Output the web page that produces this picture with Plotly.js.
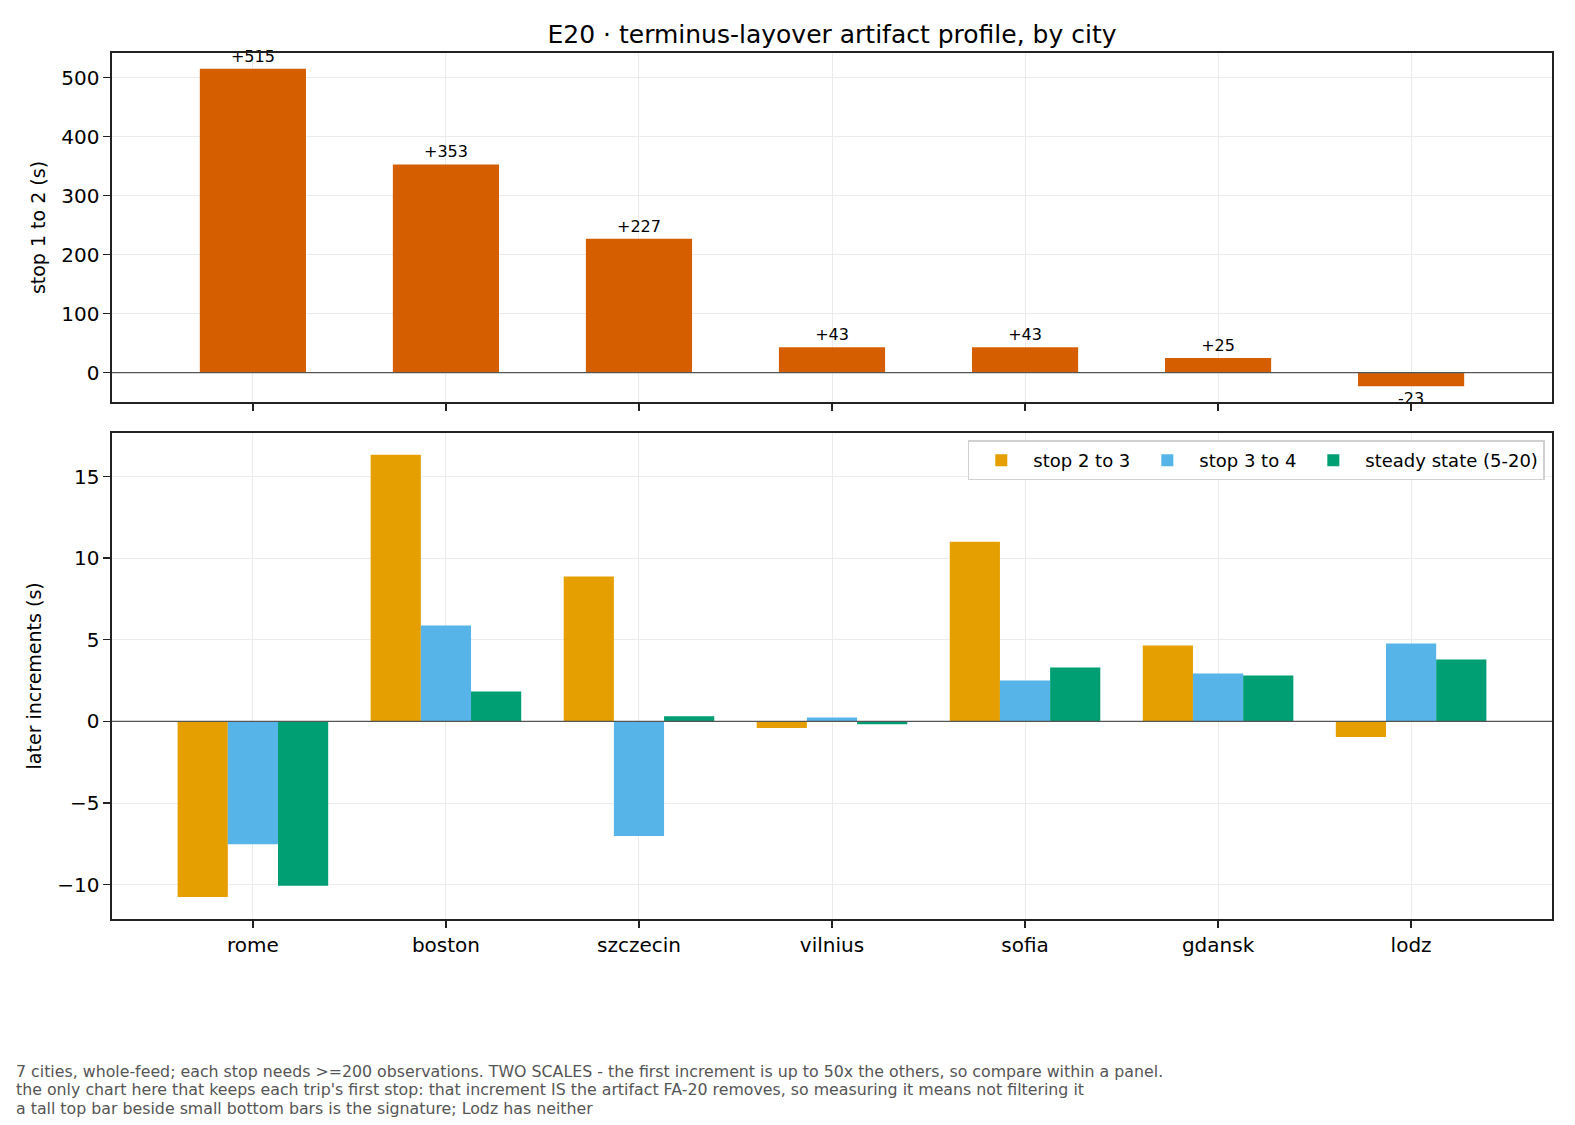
<!DOCTYPE html>
<html>
<head>
<meta charset="utf-8">
<script src="https://cdn.plot.ly/plotly-3.0.1.min.js"></script>
<style>
  body { margin: 0; background: #fff; }
  #chart { width: 1575px; height: 1125px; }
</style>
</head>
<body>
<div id="chart"></div>
<script>
// cities, in the order they are drawn
var cities = ['rome', 'boston', 'szczecin', 'vilnius', 'sofia', 'gdansk', 'lodz'];

// top panel: first increment (stop 1 -> 2), seconds
var firstInc = [515, 353, 227, 43, 43, 25, -23];

// bottom panel: later increments, seconds
var stop2to3 = [-10.75, 16.33, 8.87, -0.41, 11.0, 4.65, -0.96];
var stop3to4 = [-7.52, 5.87, -7.01, 0.24, 2.51, 2.94, 4.77];
var steady = [-10.07, 1.83, 0.31, -0.17, 3.30, 2.81, 3.79];

var footLines = [
  "7 cities, whole-feed; each stop needs >=200 observations. TWO SCALES - the first increment is up to 50x the others, so compare within a panel.",
  "the only chart here that keeps each trip's first stop: that increment IS the artifact FA-20 removes, so measuring it means not filtering it",
  "a tall top bar beside small bottom bars is the signature; Lodz has neither"
];

var firstText = firstInc.map(function (v) { return v > 0 ? '+' + v : String(v); });

var traces = [
  {
    type: 'bar', x: cities, y: firstInc, xaxis: 'x', yaxis: 'y',
    width: 0.55, marker: {color: '#D55E00'},
    text: firstText, textposition: 'outside', cliponaxis: false,
    textfont: {size: 16, color: '#000'},
    showlegend: false, hoverinfo: 'x+y'
  },
  {
    type: 'bar', name: 'stop 2 to 3', x: cities, y: stop2to3,
    xaxis: 'x2', yaxis: 'y2', marker: {color: '#E69F00'}
  },
  {
    type: 'bar', name: 'stop 3 to 4', x: cities, y: stop3to4,
    xaxis: 'x2', yaxis: 'y2', marker: {color: '#56B4E9'}
  },
  {
    type: 'bar', name: 'steady state (5-20)', x: cities, y: steady,
    xaxis: 'x2', yaxis: 'y2', marker: {color: '#009E73'}
  }
];

var axisCommon = {
  showline: true, mirror: true, linecolor: '#222', linewidth: 1.6,
  ticks: 'outside', ticklen: 7, tickwidth: 1.4, tickcolor: '#222',
  showgrid: true, gridcolor: '#ebebeb', gridwidth: 1,
  zeroline: false, tickfont: {size: 20, color: '#000'}
};

function ax(extra) {
  return Object.assign({}, axisCommon, extra);
}

var annotations = footLines.map(function (t, i) {
  return {
    xref: 'paper', yref: 'paper', x: -0.0679, y: -0.176 - i * 0.0214,
    xanchor: 'left', yanchor: 'middle', showarrow: false, align: 'left',
    text: t, font: {size: 15.8, color: '#555'}
  };
});

var layout = {
  width: 1575, height: 1125,
  margin: {l: 112, r: 23, t: 53, b: 205.5},
  paper_bgcolor: '#fff', plot_bgcolor: '#fff',
  font: {family: 'DejaVu Sans', color: '#000'},
  title: {
    text: 'E20 · terminus-layover artifact profile, by city',
    font: {size: 25, color: '#000'},
    x: 0.5, xref: 'paper', y: 1 - 34 / 1125, yref: 'container', yanchor: 'middle'
  },
  barmode: 'group', bargap: 0.22, bargroupgap: 0,
  xaxis: ax({anchor: 'y', range: [-0.73, 6.73], showticklabels: false, type: 'category'}),
  yaxis: ax({
    anchor: 'x', domain: [0.5969, 1], range: [-49.9, 541.9], dtick: 100,
    title: {text: 'stop 1 to 2 (s)', font: {size: 19}, standoff: 10}
  }),
  xaxis2: ax({anchor: 'y2', matches: 'x', range: [-0.73, 6.73], type: 'category'}),
  yaxis2: ax({
    anchor: 'x2', domain: [0, 0.5615], range: [-12.1, 17.68], dtick: 5,
    title: {text: 'later increments (s)', font: {size: 19}, standoff: 10}
  }),
  legend: {
    orientation: 'h', x: 0.995, xanchor: 'right', y: 0.5526, yanchor: 'top',
    bgcolor: '#fff', bordercolor: '#d0d0d0', borderwidth: 1.5,
    font: {size: 18, color: '#000'}, traceorder: 'normal',
    itemwidth: 54
  },
  shapes: [
    {type: 'line', xref: 'x domain', yref: 'y', x0: 0, x1: 1, y0: 0, y1: 0,
     line: {color: '#555', width: 1.3}, layer: 'above'},
    {type: 'line', xref: 'x2 domain', yref: 'y2', x0: 0, x1: 1, y0: 0, y1: 0,
     line: {color: '#555', width: 1.3}, layer: 'above'}
  ],
  annotations: annotations
};

Plotly.newPlot('chart', traces, layout, {displayModeBar: false, staticPlot: true});
</script>
</body>
</html>
